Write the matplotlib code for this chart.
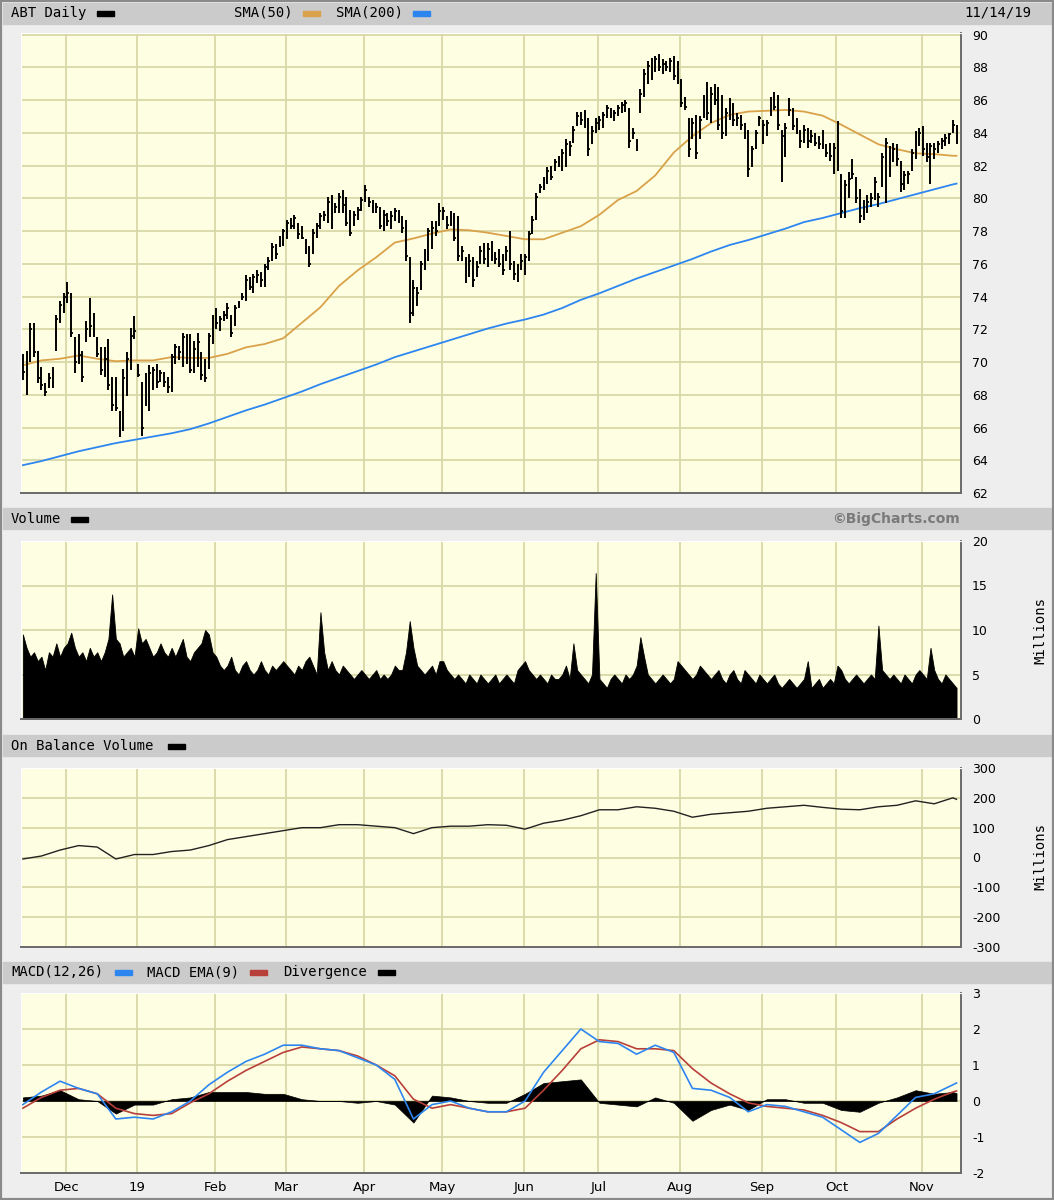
import numpy as np
import pandas as pd
import matplotlib
matplotlib.use('Agg')
import matplotlib.pyplot as plt
from matplotlib.patches import Rectangle

W, H = 1054, 1200

# trading days 11/14/18 - 11/14/19
holidays = ['2018-11-22', '2018-12-05', '2018-12-25', '2019-01-01', '2019-01-21',
            '2019-02-18', '2019-04-19', '2019-05-27', '2019-07-04', '2019-09-02']
days = pd.bdate_range('2018-11-14', '2019-11-14')
days = days[~days.isin(pd.to_datetime(holidays))]

# ---- daily price bars (high / low / close), month by month ----
high = [70.5, 70.7, 72.4, 72.4, 70.7, 69.7, 68.7, 69.3, 69.7, 72.9, 73.7, 74.2,
        74.9, 74.2, 71.5, 71.7, 70.7, 72.5, 73.9, 73.0, 71.5, 70.9, 70.9, 71.4, 69.1, 69.1, 67.0, 69.6, 70.6, 72.1, 72.8,
        69.9, 68.8, 69.3, 69.8, 69.7, 69.9, 69.5, 69.4, 69.1, 70.5, 71.1, 71.0, 71.8, 71.7, 71.7, 71.3, 71.8, 70.6, 70.2, 71.8, 72.9,
        73.3, 72.8, 73.1, 73.6, 72.9, 73.5, 73.7, 74.2, 75.3, 75.2, 75.4, 75.6, 75.5, 76.0, 76.4, 77.3, 77.2, 77.7, 78.1,
        78.7, 78.8, 79.0, 78.5, 78.3, 77.5, 77.1, 78.1, 78.5, 79.1, 79.2, 80.1, 80.2, 79.7, 80.3, 80.5, 80.1, 79.3, 79.2, 79.5, 80.1,
        80.8, 80.1, 79.9, 79.7, 79.5, 79.3, 79.1, 79.2, 79.4, 79.3, 78.9, 78.7, 76.4, 75.0, 74.6, 76.2, 76.9, 78.2, 78.6, 78.6, 79.7,
        79.5, 78.9, 79.2, 79.1, 78.9, 77.1, 76.4, 76.6, 76.4, 76.2, 77.1, 77.3, 77.3, 77.4, 76.7, 76.9, 76.6, 77.1, 78.0, 76.2, 76.0, 76.6,
        76.6, 78.0, 78.9, 80.3, 80.9, 81.3, 81.9, 82.0, 82.4, 82.6, 83.0, 83.6, 83.5, 84.4, 85.3, 85.3, 85.4, 84.9, 84.4, 84.9,
        85.0, 85.3, 85.7, 85.5, 85.4, 85.7, 85.9, 86.0, 85.5, 84.3, 83.6, 86.7, 87.9, 88.4, 88.6, 88.7, 88.8, 88.5, 88.4, 88.6, 88.7, 88.4,
        87.3, 86.2, 84.9, 84.9, 85.1, 85.0, 86.3, 87.1, 86.8, 87.0, 86.8, 86.3, 85.5, 86.1, 85.8, 85.2, 85.1, 84.6, 84.2, 83.2, 84.2, 85.0,
        84.8, 84.8, 86.2, 86.5, 86.3, 84.2, 84.6, 86.1, 85.5, 84.9, 84.2, 84.5, 84.3, 84.2, 84.0, 83.8, 84.2, 83.3, 83.4, 83.4,
        84.7, 81.5, 81.1, 81.6, 82.4, 81.3, 80.6, 79.9, 80.2, 80.3, 81.3, 80.3, 82.8, 83.7, 83.2, 83.4, 83.3, 82.3, 81.7, 81.7, 83.0, 84.1, 84.3,
        84.4, 83.4, 83.4, 83.4, 83.5, 83.7, 83.9, 84.0, 84.8, 84.5]
low = [68.9, 68.0, 70.0, 70.3, 68.7, 68.3, 67.9, 68.4, 68.4, 70.7, 72.4, 73.0,
       73.6, 71.5, 69.3, 69.9, 68.8, 71.2, 71.5, 71.5, 70.3, 69.2, 69.1, 68.3, 67.0, 67.0, 65.4, 65.8, 67.9, 69.5, 71.4,
       69.1, 65.5, 67.3, 67.0, 68.3, 68.4, 68.8, 68.5, 68.1, 68.2, 69.9, 70.1, 69.7, 69.9, 69.3, 69.3, 69.7, 68.9, 68.8, 69.6, 71.1,
       72.0, 71.9, 72.5, 72.6, 71.5, 72.2, 73.3, 73.8, 73.7, 74.4, 74.2, 74.8, 74.6, 74.6, 75.6, 76.2, 76.3, 77.0, 77.1,
       77.5, 78.1, 78.1, 77.5, 77.5, 76.6, 75.8, 76.6, 77.6, 78.1, 78.6, 78.5, 78.1, 79.1, 79.1, 79.1, 78.3, 77.7, 78.3, 78.7, 79.2,
       79.8, 79.5, 79.1, 79.1, 78.1, 78.0, 78.3, 78.1, 78.6, 78.5, 77.9, 76.2, 72.4, 72.8, 73.4, 74.4, 75.6, 76.2, 76.9, 77.7, 78.3,
       78.7, 78.1, 78.3, 77.4, 76.2, 76.2, 74.8, 75.2, 74.6, 75.2, 76.0, 76.0, 75.8, 76.2, 76.0, 75.8, 75.3, 76.2, 75.6, 75.0, 74.9, 75.6,
       75.3, 76.2, 77.8, 78.7, 80.3, 80.5, 80.9, 81.1, 81.7, 81.9, 81.7, 81.9, 82.6, 83.4, 84.4, 84.5, 84.3, 82.6, 83.3, 84.0,
       84.2, 84.3, 84.9, 84.9, 84.7, 85.0, 85.2, 85.3, 83.1, 83.6, 82.9, 85.2, 86.2, 87.0, 87.2, 87.7, 87.8, 87.6, 87.8, 87.7, 87.2, 87.0,
       85.6, 85.4, 82.5, 83.6, 82.4, 83.6, 84.9, 84.8, 84.6, 85.7, 84.2, 83.6, 83.8, 84.8, 84.4, 84.4, 84.2, 83.6, 81.3, 81.9, 83.0, 84.4,
       83.3, 83.8, 85.0, 85.4, 84.2, 81.0, 82.5, 85.0, 84.2, 83.9, 83.1, 83.4, 83.1, 83.4, 83.2, 83.0, 83.0, 82.5, 82.3, 81.5,
       81.7, 78.8, 78.8, 80.0, 81.2, 79.7, 78.5, 78.7, 79.1, 79.5, 79.9, 79.5, 80.7, 79.7, 81.3, 82.2, 82.0, 80.4, 80.5, 80.9, 81.7, 82.4, 83.2,
       82.6, 82.2, 80.9, 82.4, 82.8, 83.0, 83.2, 83.3, 84.0, 83.3]
close = [69.4, 70.3, 72.0, 70.6, 69.0, 68.6, 68.2, 69.0, 69.5, 72.6, 73.5, 74.0,
         74.2, 71.8, 70.0, 70.4, 69.1, 72.0, 72.2, 71.8, 70.5, 69.5, 70.2, 68.6, 67.4, 67.2, 65.6, 69.0, 70.2, 71.6, 71.9,
         69.2, 66.0, 69.0, 69.3, 69.5, 68.8, 69.3, 68.8, 68.5, 70.3, 70.9, 70.6, 71.5, 70.5, 69.5, 70.8, 71.2, 69.2, 69.0, 71.6, 72.7,
         72.4, 72.6, 72.9, 73.3, 71.8, 73.3, 73.6, 74.0, 75.0, 74.6, 75.2, 75.3, 75.0, 75.8, 76.2, 77.0, 76.6, 77.5, 78.0,
         78.5, 78.3, 78.8, 77.8, 77.6, 76.8, 76.0, 77.9, 78.3, 78.9, 79.0, 79.8, 79.2, 79.5, 80.1, 79.6, 78.5, 77.9, 79.0, 79.3, 79.9,
         80.5, 79.8, 79.3, 79.5, 78.3, 79.0, 78.6, 78.9, 79.2, 78.7, 78.2, 76.5, 73.0, 74.5, 74.2, 76.0, 76.6, 78.0, 78.2, 78.0, 79.2,
         79.2, 78.4, 78.8, 77.6, 76.5, 76.8, 75.2, 76.2, 75.0, 75.8, 76.8, 76.3, 76.9, 76.5, 76.3, 76.0, 75.6, 76.8, 76.0, 75.4, 75.3, 76.2,
         76.4, 77.8, 78.7, 80.1, 80.7, 81.1, 81.7, 81.3, 82.2, 82.0, 82.8, 83.3, 83.2, 84.2, 85.0, 84.8, 84.5, 83.0, 84.1, 84.6,
         84.8, 85.1, 85.5, 85.0, 85.2, 85.5, 85.7, 85.8, 83.5, 84.0, 83.2, 86.4, 87.6, 88.1, 87.5, 88.5, 88.0, 88.2, 88.0, 88.4, 87.5, 87.2,
         85.8, 85.6, 83.0, 84.6, 82.8, 84.8, 86.0, 85.2, 86.4, 86.0, 84.5, 84.0, 85.2, 85.6, 84.8, 84.9, 84.5, 83.8, 81.8, 83.0, 84.0, 84.9,
         84.5, 84.6, 86.0, 85.6, 84.5, 83.8, 84.3, 85.4, 84.4, 84.1, 83.5, 84.2, 83.5, 83.8, 83.4, 83.3, 83.2, 82.8, 82.6, 83.1,
         82.0, 79.2, 80.8, 81.2, 81.5, 80.0, 78.9, 79.5, 79.8, 80.0, 81.0, 80.1, 82.5, 83.4, 82.5, 83.0, 82.4, 80.9, 81.4, 81.5, 82.8, 83.8, 84.0,
         83.0, 82.5, 83.2, 83.0, 83.3, 83.5, 83.7, 83.9, 84.5, 83.8]

# daily volume, millions
volume = [9.5, 8.0, 7.0, 7.5, 6.5, 7.0, 5.5, 7.5, 7.0, 8.5, 7.0, 8.0,
          8.5, 9.7, 8.0, 7.0, 7.5, 6.5, 8.0, 7.0, 7.5, 6.5, 7.5, 9.0, 14.0, 9.0, 8.5, 7.0, 7.5, 8.0, 7.0,
          10.2, 8.5, 9.0, 8.0, 7.0, 7.5, 8.5, 7.5, 7.0, 8.0, 7.0, 8.0, 9.0, 7.0, 6.5, 7.5, 8.0, 8.5, 10.0, 9.5, 7.5,
          7.0, 6.0, 5.5, 6.0, 7.0, 5.5, 5.0, 6.0, 6.5, 5.5, 5.0, 5.5, 6.5, 5.5, 5.0, 6.0, 5.5, 6.0, 6.5,
          6.0, 5.5, 5.0, 6.0, 5.5, 6.5, 7.0, 6.0, 5.0, 12.0, 7.5, 5.5, 6.5, 5.5, 5.0, 6.0, 5.5, 5.0, 4.5, 5.0, 5.5,
          5.0, 4.5, 5.0, 5.5, 4.5, 5.0, 4.5, 5.0, 6.0, 5.5, 5.5, 7.5, 11.0, 8.0, 6.0, 5.5, 5.0, 5.5, 6.0, 5.0, 6.5,
          6.5, 5.5, 5.0, 4.5, 5.0, 4.5, 4.0, 5.0, 4.5, 4.0, 5.0, 4.5, 4.0, 4.5, 5.0, 4.0, 4.5, 5.0, 4.5, 4.0, 5.5, 6.0,
          6.5, 5.5, 5.0, 4.5, 5.0, 4.5, 4.0, 5.0, 4.5, 4.5, 5.0, 6.0, 4.5, 8.5, 5.5, 5.0, 4.5, 4.0, 5.0, 16.4,
          4.5, 4.0, 3.5, 4.5, 5.0, 4.5, 4.0, 5.0, 4.5, 5.0, 6.0, 9.2, 7.0, 5.0, 4.5, 4.0, 4.5, 5.0, 4.5, 4.0, 4.5, 6.5,
          6.0, 5.5, 5.0, 4.5, 5.0, 6.0, 5.5, 5.0, 4.5, 5.0, 5.5, 4.5, 4.0, 5.0, 5.5, 4.5, 4.0, 5.5, 5.0, 4.5, 4.0, 5.0,
          4.5, 4.0, 4.5, 5.0, 4.0, 3.5, 4.0, 4.5, 4.0, 3.5, 4.0, 4.5, 6.5, 3.5, 4.0, 4.5, 3.5, 4.0, 4.5, 4.0,
          6.0, 5.5, 4.5, 4.0, 4.5, 5.0, 4.5, 4.0, 4.5, 5.0, 4.5, 10.5, 5.5, 5.0, 4.5, 5.0, 4.5, 4.0, 5.0, 4.5, 4.0, 5.0, 5.5,
          5.0, 4.5, 8.0, 5.5, 4.5, 4.0, 5.0, 4.5, 4.0, 3.5]

# moving averages, read every 5th session (+ last)
sma50 = [69.8, 70.1, 70.2, 70.4, 70.2, 70.05, 70.1, 70.1, 70.3, 70.25, 70.25, 70.5, 70.9,
         71.1, 71.45, 72.4, 73.35, 74.65, 75.6, 76.4, 77.3, 77.55, 77.85, 78.1, 78.05, 77.9,
         77.7, 77.5, 77.5, 77.9, 78.3, 79.0, 79.9, 80.45, 81.4, 82.8, 83.8, 84.6, 85.1, 85.3,
         85.35, 85.4, 85.3, 85.05, 84.5, 83.9, 83.3, 83.0, 82.75, 82.7, 82.6, 82.6]
sma200 = [63.7, 63.95, 64.25, 64.55, 64.8, 65.05, 65.25, 65.45, 65.65, 65.9, 66.25, 66.65, 67.05,
          67.4, 67.8, 68.2, 68.65, 69.05, 69.45, 69.85, 70.3, 70.65, 71.0, 71.35, 71.7, 72.05,
          72.35, 72.6, 72.9, 73.3, 73.8, 74.2, 74.65, 75.1, 75.5, 75.9, 76.3, 76.75, 77.15, 77.45,
          77.8, 78.15, 78.55, 78.8, 79.1, 79.4, 79.65, 79.95, 80.25, 80.55, 80.85, 80.9]

# indicators, read every 5th session (+ last)
obv = [-5, 5, 25, 40, 35, -5, 10, 10, 20, 25, 40, 60, 70, 80, 90, 100, 100, 110, 110, 105,
       100, 80, 100, 105, 105, 110, 108, 95, 115, 125, 140, 160, 160, 170, 165, 155, 135, 145,
       150, 155, 165, 170, 175, 168, 162, 160, 170, 175, 190, 180, 200, 195]
macd = [-0.1, 0.25, 0.55, 0.35, 0.2, -0.5, -0.45, -0.5, -0.3, 0.0, 0.45, 0.8, 1.1, 1.3, 1.55,
        1.55, 1.45, 1.4, 1.2, 1.0, 0.6, -0.5, -0.1, 0.0, -0.2, -0.3, -0.3, 0.0, 0.8, 1.4, 2.0,
        1.65, 1.6, 1.3, 1.55, 1.35, 0.35, 0.3, 0.1, -0.3, -0.1, -0.15, -0.3, -0.45, -0.8, -1.15,
        -0.9, -0.4, 0.1, 0.2, 0.45, 0.5]
signal = [-0.2, 0.1, 0.3, 0.35, 0.2, -0.2, -0.35, -0.4, -0.35, -0.05, 0.2, 0.55, 0.85, 1.1, 1.35,
          1.5, 1.45, 1.4, 1.25, 1.0, 0.7, 0.05, -0.2, -0.1, -0.2, -0.3, -0.3, -0.2, 0.3, 0.85, 1.45,
          1.7, 1.65, 1.45, 1.45, 1.4, 0.9, 0.5, 0.2, -0.05, -0.15, -0.2, -0.25, -0.4, -0.6, -0.85,
          -0.85, -0.5, -0.2, 0.05, 0.25, 0.28]
divergence = [0.1, 0.15, 0.3, 0.05, 0.0, -0.35, -0.1, -0.1, 0.05, 0.1, 0.25, 0.25, 0.25, 0.2, 0.2,
              0.05, 0.0, 0.0, -0.05, 0.0, -0.1, -0.6, 0.15, 0.1, 0.0, -0.05, -0.05, 0.2, 0.5, 0.55, 0.6,
              -0.05, -0.1, -0.15, 0.1, -0.05, -0.55, -0.25, -0.1, -0.25, 0.05, 0.05, -0.05, -0.05, -0.25,
              -0.3, -0.05, 0.1, 0.3, 0.2, 0.25, 0.22]

month_labels = ['Dec', '19', 'Feb', 'Mar', 'Apr', 'May', 'Jun', 'Jul', 'Aug', 'Sep', 'Oct', 'Nov']

n = len(days)
idx = np.arange(n)
idx5 = np.r_[idx[::5], n - 1]
month_pos = [i - 0.27 for i in range(1, n) if days[i].month != days[i - 1].month]

plt.rcParams['axes.unicode_minus'] = False

BG = '#eeeeee'
HEAD = '#cbcbcb'
PLOT = '#fefee2'
GRID = '#d8d8a6'
ORANGE = '#d9a24a'
BLUE = '#2d86f0'
RED = '#b8403a'
mono = 'DejaVu Sans Mono'

fig = plt.figure(figsize=(W / 100, H / 100), dpi=100, facecolor=BG)


def frect(x0, y0, x1, y1):
    return [x0 / W, 1 - y1 / H, (x1 - x0) / W, (y1 - y0) / H]


def header(y0, y1):
    fig.patches.append(Rectangle((3 / W, 1 - y1 / H), (W - 6) / W, (y1 - y0) / H,
                                 transform=fig.transFigure, color=HEAD, zorder=0))


def swatch(x0, yc, color):
    fig.patches.append(Rectangle((x0 / W, 1 - (yc + 2.5) / H), 17 / W, 5 / H,
                                 transform=fig.transFigure, color=color, zorder=1))


def label(x, yc, s, **kw):
    fig.text(x / W, 1 - yc / H, s, va='center', family=mono, fontsize=10, **kw)


def style(ax, ylo, yhi, ticks):
    ax.set_facecolor(PLOT)
    ax.set_xlim(-0.5, n + 0.2)
    ax.set_ylim(ylo, yhi)
    ax.set_xticks(month_pos)
    ax.set_xticklabels([])
    ax.set_yticks(ticks)
    ax.set_yticklabels([str(t) for t in ticks])
    ax.yaxis.tick_right()
    ax.tick_params(length=0, labelsize=9, pad=8)
    ax.grid(True, color=GRID, lw=1.3)
    ax.set_axisbelow(True)
    for side in ['left', 'top']:
        ax.spines[side].set_color('#ffffff')
    for side in ['right', 'bottom']:
        ax.spines[side].set_color('#6a6a6a')
        ax.spines[side].set_linewidth(1.4)


# headers
header(3, 24)
header(508, 529)
header(735, 756)
header(962, 983)

label(11, 13, 'ABT Daily')
swatch(97, 13, 'black')
label(234, 13, 'SMA(50)')
swatch(303, 13, ORANGE)
label(336, 13, 'SMA(200)')
swatch(413, 13, BLUE)
label(1031, 13, '11/14/19', ha='right')

label(11, 519, 'Volume')
swatch(71, 519, 'black')
fig.text(960 / W, 1 - 519 / H, '\u00a9BigCharts.com', ha='right', va='center',
         fontsize=10, fontweight='bold', color='#7a7a7a')

label(11, 746, 'On Balance Volume')
swatch(168, 746, 'black')

label(11, 972, 'MACD(12,26)')
swatch(115, 972, BLUE)
label(147, 972, 'MACD EMA(9)')
swatch(250, 972, RED)
label(283, 972, 'Divergence')
swatch(378, 972, 'black')

# price panel
ax1 = fig.add_axes(frect(21, 33, 961, 493))
style(ax1, 62, 90.1, list(range(62, 91, 2)))
ax1.plot(idx5, sma200, color=BLUE, lw=1.3, zorder=2)
ax1.plot(idx5, sma50, color=ORANGE, lw=1.3, zorder=2)
ax1.vlines(idx, low, high, color='black', lw=1.4, zorder=3)
ax1.hlines(close, idx, idx + 0.5, color='black', lw=1.3, zorder=3)

# volume panel
ax2 = fig.add_axes(frect(21, 541, 961, 719))
style(ax2, 0, 20, [0, 5, 10, 15, 20])
ax2.fill_between(idx, volume, 0, color='black', lw=0.6, zorder=2)
fig.text(1040 / W, 1 - 630 / H, 'Millions', rotation=90, ha='center', va='center',
         family=mono, fontsize=10)

# OBV panel
ax3 = fig.add_axes(frect(21, 768, 961, 947))
style(ax3, -300, 300, [-300, -200, -100, 0, 100, 200, 300])
ax3.plot(idx5, obv, color='#222222', lw=1.0, zorder=2)
fig.text(1040 / W, 1 - 857 / H, 'Millions', rotation=90, ha='center', va='center',
         family=mono, fontsize=10)

# MACD panel
ax4 = fig.add_axes(frect(21, 993, 961, 1173))
style(ax4, -2, 3, [-2, -1, 0, 1, 2, 3])
ax4.fill_between(idx5, divergence, 0, color='black', lw=0.5, zorder=2)
ax4.plot(idx5, signal, color=RED, lw=1.2, zorder=3)
ax4.plot(idx5, macd, color=BLUE, lw=1.2, zorder=4)
ax4.set_xticklabels(month_labels)
ax4.tick_params(axis='x', labelsize=9.5, pad=6)

# outer frame
fig.patches.append(Rectangle((0, 0), 1, 1, transform=fig.transFigure, fill=False,
                             edgecolor='#8a8a8a', lw=3, zorder=5))

fig.savefig('out.png', dpi=100, facecolor=BG)
